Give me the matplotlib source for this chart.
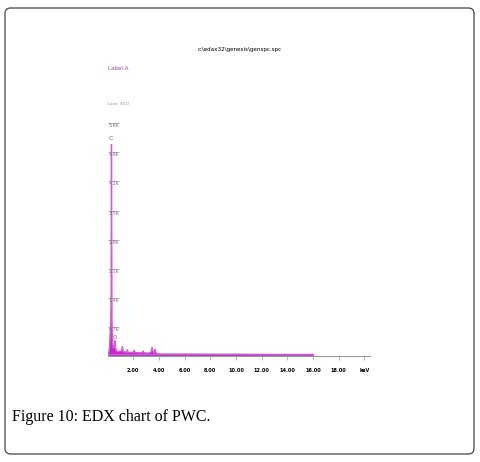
import matplotlib.pyplot as plt
from matplotlib.patches import FancyBboxPatch

# spectrum (keV, counts in k)
energy = [0.0, 0.12, 0.2, 0.24, 0.27, 0.29, 0.31, 0.34, 0.38, 0.44, 0.5, 0.54, 0.58,
          0.64, 0.75, 0.9, 1.05, 1.12, 1.18, 1.3, 1.45, 1.5, 1.56, 1.75, 1.95, 2.02,
          2.1, 2.4, 2.65, 2.72, 2.8, 3.1, 3.35, 3.43, 3.5, 3.58, 3.66, 3.72, 3.8,
          4.0, 6.0, 8.0, 10.0, 12.0, 14.0, 16.0]
counts = [0.0, 0.2, 0.75, 1.3, 5.1, 3.0, 0.9, 0.45, 0.25, 0.2, 0.3, 0.38, 0.22,
          0.14, 0.12, 0.12, 0.14, 0.24, 0.12, 0.11, 0.1, 0.16, 0.1, 0.1, 0.1, 0.15,
          0.1, 0.09, 0.09, 0.13, 0.09, 0.08, 0.1, 0.22, 0.12, 0.09, 0.18, 0.1, 0.07,
          0.06, 0.06, 0.055, 0.055, 0.05, 0.05, 0.05]

xticks = [2, 4, 6, 8, 10, 12, 14, 16, 18, 20]
xlabels = ["2.00", "4.00", "6.00", "8.00", "10.00", "12.00", "14.00", "16.00", "18.00", "keV"]
yticks = [0.7, 1.4, 2.1, 2.8, 3.5, 4.2, 4.9, 5.6]
ylabels = ["0.7k", "1.4k", "2.1k", "2.8k", "3.5k", "4.2k", "4.9k", "5.6k"]

fig = plt.figure(figsize=(4.8, 4.62), dpi=100)

# rounded frame round the whole figure
frame = FancyBboxPatch((5 / 480, 8 / 462), 469 / 480, 446 / 462,
                       boxstyle="round,pad=0,rounding_size=0.012",
                       transform=fig.transFigure, fill=False,
                       edgecolor="#555555", linewidth=1.0)
fig.patches.append(frame)

ax = fig.add_axes([107.5 / 480, 1 - 356 / 462, 262.5 / 480, 256 / 462])
ax.fill_between(energy, counts, color="#cc22cc", linewidth=1.0, edgecolor="#d060d0")
ax.plot([0.0, 16.0], [0.05, 0.05], color="#b070c0", linewidth=0.8)

ax.set_xlim(0, 20.43)
ax.set_ylim(0, 6.16)

for s in ["top", "right", "left"]:
    ax.spines[s].set_visible(False)
ax.spines["bottom"].set_color("#999999")
ax.spines["bottom"].set_linewidth(0.8)

ax.set_xticks(xticks)
ax.set_xticklabels(xlabels, fontsize=4, fontweight="bold", fontstretch="condensed")
ax.tick_params(axis="x", length=3, width=0.5, color="#999999", pad=6)

ax.set_yticks(yticks)
ax.set_yticklabels(ylabels, fontsize=3.5, color="#777777")
ax.tick_params(axis="y", direction="in", length=8, width=0.5, color="#999999", pad=-1)
for lab in ax.get_yticklabels():
    lab.set_horizontalalignment("left")
    lab.set_verticalalignment("top")

ax.text(0.12, 5.2, "C", fontsize=4.5, color="#666666", zorder=5)
ax.text(0.4, 0.42, "O", fontsize=4, color="#666666", zorder=5)

fig.text(240 / 480, 1 - 50 / 462, "c:\\edax32\\genesis\\genspc.spc", fontsize=4.5,
         ha="center", va="center", fontstretch="condensed")
fig.text(108 / 480, 1 - 68 / 462, "Label A", fontsize=4.5, color="#a040b0",
         ha="left", va="center", fontstretch="condensed")
fig.text(108 / 480, 1 - 104 / 462, "Lsec: 30.0", fontsize=3, color="#888888",
         ha="left", va="center")

fig.text(12 / 480, 1 - 417 / 462, "Figure 10: EDX chart of PWC.", fontsize=11.5,
         family="Liberation Serif", ha="left", va="center")

plt.savefig("out.png", dpi=100)
plt.close()
